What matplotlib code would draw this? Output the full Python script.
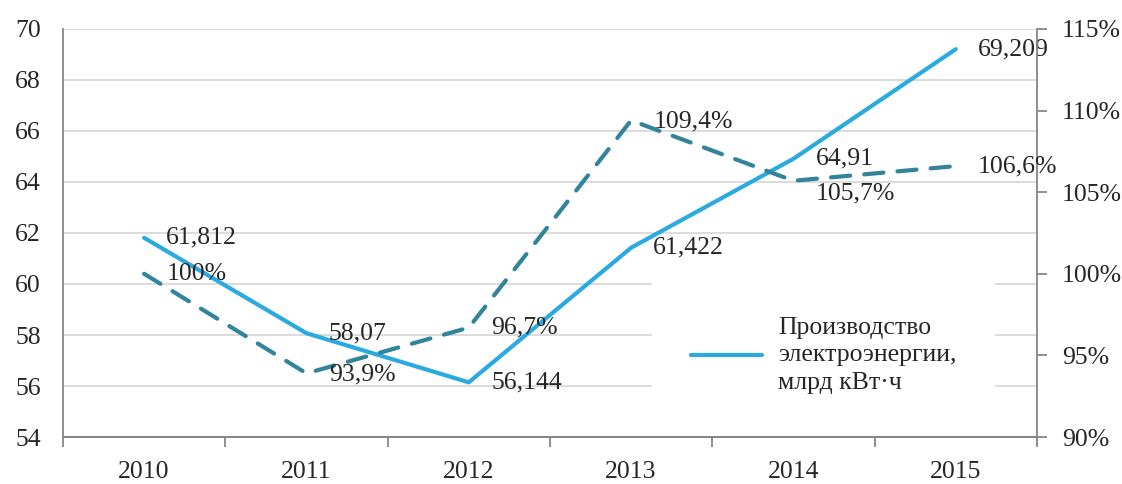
import numpy as np
import matplotlib.pyplot as plt

plt.rcParams['font.family'] = ['Liberation Serif', 'DejaVu Serif']

# data
years = ["2010", "2011", "2012", "2013", "2014", "2015"]
production = [61.812, 58.07, 56.144, 61.422, 64.91, 69.209]
production_labels = ["61,812", "58,07", "56,144", "61,422", "64,91", "69,209"]
growth = [100, 93.9, 96.7, 109.4, 105.7, 106.6]
growth_labels = ["100%", "93,9%", "96,7%", "109,4%", "105,7%", "106,6%"]

blue = "#2AAAE1"
teal = "#31849B"
grey = "#868686"
txt = "#262626"
fs = 18.5

fig = plt.figure(figsize=(11.22, 4.84), dpi=100)
ax = fig.add_axes([0.0561, 0.0971, 0.8681, 0.843])
ax2 = ax.twinx()

x = np.arange(len(years))

ax.plot(x, production, color=blue, lw=3, solid_capstyle="round",
        solid_joinstyle="round", zorder=3,
        label="Производство\nэлектроэнергии,\nмлрд кВт·ч")
ax2.plot(x, growth, color=teal, lw=3, linestyle=(0, (4.6, 3.4)),
         dash_capstyle="round", zorder=3)

# data labels
for xi, v, s in zip(x, production, production_labels):
    ax.annotate(s, (xi, v), xytext=(16, 0), textcoords="offset points",
                ha="left", va="center", fontsize=fs, color=txt, zorder=5)
growth_dy = [0, -1, 0, -1, -9, 0]
for xi, v, s, dy in zip(x, growth, growth_labels, growth_dy):
    ax2.annotate(s, (xi, v), xytext=(16, dy), textcoords="offset points",
                 ha="left", va="center", fontsize=fs, color=txt, zorder=5)

# left axis
ax.set_xlim(-0.5, 5.5)
ax.set_ylim(54, 70)
ax.set_yticks(np.arange(54, 71, 2))
ax.yaxis.grid(True, color="#D9D9D9", lw=1.3)
ax.set_axisbelow(True)
ax.tick_params(axis="y", length=0, pad=16, labelsize=fs, labelcolor=txt)

# x axis: labels centered, ticks at boundaries
ax.set_xticks(x)
ax.set_xticklabels(years)
ax.tick_params(axis="x", which="major", length=0, pad=17.5, labelsize=fs, labelcolor=txt)
ax.set_xticks(np.arange(-0.5, 6, 1), minor=True)
ax.tick_params(axis="x", which="minor", length=7, width=1.3, color=grey, direction="out")

# right axis
ax2.set_ylim(90, 115)
ax2.set_yticks(np.arange(90, 116, 5))
ax2.set_yticklabels([f"{v}%" for v in range(90, 116, 5)])
ax2.tick_params(axis="y", length=7, width=1.3, color=grey, pad=11, labelsize=fs, labelcolor=txt)

for a in (ax, ax2):
    a.spines["top"].set_visible(False)
    for side in ("left", "right", "bottom"):
        a.spines[side].set_color(grey)
        a.spines[side].set_linewidth(1.3)
ax.spines["right"].set_visible(False)
ax2.spines["left"].set_visible(False)

leg = ax2.legend(*ax.get_legend_handles_labels(), loc="center left",
                 bbox_to_anchor=(0.592, 0.2), frameon=True, fontsize=fs,
                 handlelength=2.75, handletextpad=0.65, borderpad=1.5)
leg.get_frame().set_facecolor("white")
leg.get_frame().set_edgecolor("none")
leg.get_frame().set_alpha(1)
for t in leg.get_texts():
    t.set_linespacing(1.3)
    t.set_color(txt)
leg.set_zorder(4)

fig.savefig("out.png", dpi=100)
